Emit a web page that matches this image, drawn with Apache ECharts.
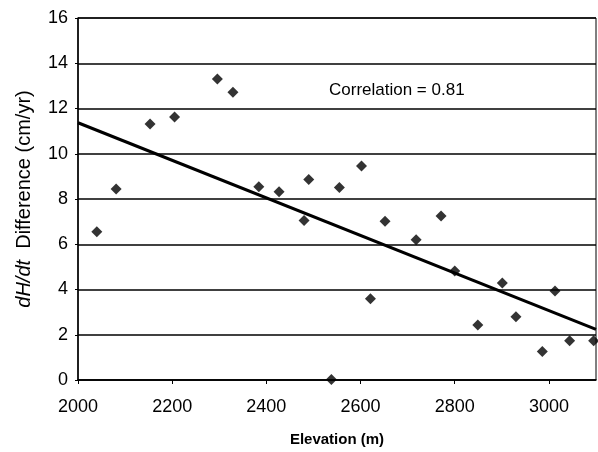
<!DOCTYPE html>
<html>
<head>
<meta charset="utf-8">
<script src="https://cdn.jsdelivr.net/npm/echarts@6/dist/echarts.min.js"></script>
<style>
  html, body { margin: 0; padding: 0; background: #fff; }
  #main { width: 598px; height: 452px; }
</style>
</head>
<body>
<div id="main"></div>
<script>
// 高程 (m)
var elevation = [2040, 2081, 2153, 2205, 2296, 2329, 2384, 2427, 2480, 2490, 2538, 2555, 2602, 2621, 2652, 2718, 2771, 2800, 2849, 2901, 2930, 2986, 3013, 3044, 3095];
// dH/dt 差值 (cm/yr)
var diff = [6.55, 8.44, 11.31, 11.62, 13.3, 12.72, 8.54, 8.32, 7.05, 8.86, 0.02, 8.51, 9.46, 3.59, 7.02, 6.2, 7.25, 4.82, 2.43, 4.29, 2.8, 1.26, 3.93, 1.73, 1.73];
// 回归线两端
var fitX = [2000, 3100];
var fitY = [11.37, 2.24];
var corrText = 'Correlation = 0.81';

var points = elevation.map(function (x, i) { return [x, diff[i]]; });
var fitLine = fitX.map(function (x, i) { return [x, fitY[i]]; });

var myChart = echarts.init(document.getElementById('main'));
myChart.setOption({
  animation: false,
  textStyle: { fontFamily: 'Liberation Sans, Arial, sans-serif', color: '#000' },
  grid: {
    left: 78, right: 2, top: 18, bottom: 70,
    show: true, borderColor: '#000', borderWidth: 1
  },
  xAxis: {
    type: 'value',
    min: 2000, max: 3100, interval: 200,
    name: 'Elevation (m)',
    nameLocation: 'middle',
    nameGap: 52,
    nameTextStyle: { fontSize: 15, fontWeight: 'bold', color: '#000' },
    axisLine: { lineStyle: { color: '#000', width: 1.5 } },
    axisTick: { length: 4, lineStyle: { color: '#000' } },
    axisLabel: {
      fontSize: 18, color: '#000', margin: 18, showMaxLabel: false,
      formatter: function (v) { return String(v); }
    },
    splitLine: { show: false }
  },
  yAxis: {
    type: 'value',
    min: 0, max: 16, interval: 2,
    name: '{i|dH/dt}  Difference (cm/yr)',
    nameLocation: 'middle',
    nameGap: 44,
    nameTextStyle: {
      fontSize: 20, color: '#000',
      rich: { i: { fontSize: 20, fontStyle: 'italic', color: '#000' } }
    },
    axisLine: { lineStyle: { color: '#000', width: 1.5 } },
    axisTick: { show: true, length: 3, lineStyle: { color: '#000' } },
    axisLabel: { fontSize: 18, color: '#000', margin: 10 },
    splitLine: { show: true, lineStyle: { color: '#000', width: 1.5 } }
  },
  graphic: [{
    type: 'text',
    left: 329, top: 82,
    style: { text: corrText, fontSize: 17, fill: '#000', fontFamily: 'Liberation Sans, Arial, sans-serif' }
  }],
  series: [{
    name: 'data',
    type: 'scatter',
    symbol: 'diamond',
    symbolSize: 11,
    data: points,
    itemStyle: { color: '#000' }
  }, {
    name: 'fit',
    type: 'line',
    data: fitLine,
    symbol: 'none',
    lineStyle: { color: '#000', width: 3 }
  }]
});
</script>
</body>
</html>
